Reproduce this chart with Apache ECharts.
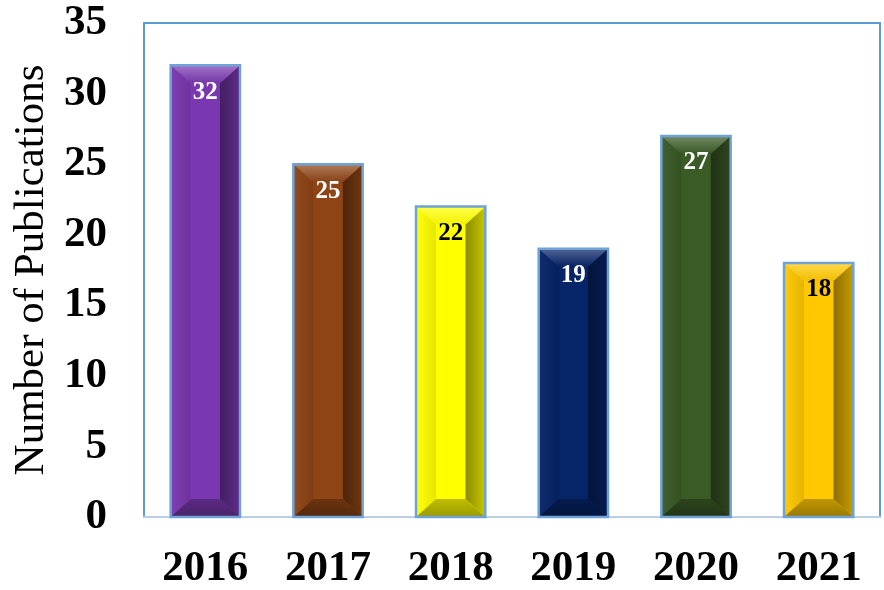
<!DOCTYPE html>
<html>
<head>
<meta charset="utf-8">
<script src="https://cdn.jsdelivr.net/npm/echarts@6/dist/echarts.min.js"></script>
<style>
  html, body { margin: 0; padding: 0; background: #fff; }
  #chart { width: 884px; height: 590px; }
</style>
</head>
<body>
<div id="chart"></div>
<script>
// data
const years = ['2016', '2017', '2018', '2019', '2020', '2021']
const publications = [32, 25, 22, 19, 27, 18]
const yTicks = [0, 5, 10, 15, 20, 25, 30, 35]

// bar colours (face colour, label colour)
const faceColors = ['#7a38b0', '#8e4415', '#ffff00', '#062468', '#3a5a26', '#ffc800']
const labelColors = ['#fff', '#fff', '#000', '#fff', '#fff', '#000']

const serif = '"Liberation Serif", "Times New Roman", serif'

// lighten (amt > 0) or darken (amt < 0) a hex colour
const shade = (hex, amt) => {
  const n = parseInt(hex.slice(1), 16)
  let r = (n >> 16) & 255, g = (n >> 8) & 255, b = n & 255
  const f = c => amt >= 0 ? Math.round(c + (255 - c) * amt) : Math.round(c * (1 + amt))
  return `rgb(${f(r)},${f(g)},${f(b)})`
}

const chart = echarts.init(document.getElementById('chart'))

// bevelled bar, drawn from the axis coords
const renderBar = (params, api) => {
  const idx = params.dataIndex
  const top = api.coord([api.value(0), api.value(1)])
  const base = api.coord([api.value(0), 0])
  const bw = api.size([1, 0])[0] * 0.565
  const x0 = top[0] - bw / 2, x1 = top[0] + bw / 2
  const y0 = top[1], y1 = base[1]
  const bx = 20, by = 18
  const ix0 = x0 + bx, ix1 = x1 - bx, iy0 = y0 + by, iy1 = y1 - by
  const c = faceColors[idx]
  const poly = (pts, fill) => ({ type: 'polygon', shape: { points: pts }, style: { fill: fill } })
  return {
    type: 'group',
    children: [
      { type: 'rect', shape: { x: x0, y: y0, width: bw, height: y1 - y0 }, style: { fill: c } },
      poly([[x0, y0], [ix0, iy0], [ix0, iy1], [x0, y1]], {
        type: 'linear', x: 0, y: 0, x2: 1, y2: 0,
        colorStops: [{ offset: 0, color: shade(c, 0.04) }, { offset: 1, color: shade(c, -0.1) }]
      }),
      poly([[x1, y0], [ix1, iy0], [ix1, iy1], [x1, y1]], {
        type: 'linear', x: 0, y: 0, x2: 1, y2: 0,
        colorStops: [{ offset: 0, color: shade(c, -0.45) }, { offset: 1, color: shade(c, -0.22) }]
      }),
      poly([[x0, y0], [x1, y0], [ix1, iy0], [ix0, iy0]], {
        type: 'linear', x: 0, y: 0, x2: 0, y2: 1,
        colorStops: [{ offset: 0, color: shade(c, 0.3) }, { offset: 1, color: shade(c, -0.05) }]
      }),
      poly([[x0, y1], [x1, y1], [ix1, iy1], [ix0, iy1]], {
        type: 'linear', x: 0, y: 0, x2: 0, y2: 1,
        colorStops: [{ offset: 0, color: shade(c, -0.25) }, { offset: 1, color: shade(c, -0.4) }]
      }),
      { type: 'rect', shape: { x: ix0, y: iy0, width: ix1 - ix0, height: iy1 - iy0 }, style: { fill: c } },
      {
        type: 'rect', shape: { x: x0, y: y0, width: bw, height: y1 - y0 },
        style: { fill: 'none', stroke: '#6fa3d8', lineWidth: 2.5 }
      },
      {
        type: 'text', x: top[0], y: y0 + 27,
        style: {
          text: String(api.value(1)), fill: labelColors[idx],
          font: 'bold 25px ' + serif,
          align: 'center', verticalAlign: 'middle'
        }
      }
    ]
  }
}

chart.setOption({
  animation: false,
  backgroundColor: '#fff',
  grid: {
    left: 144, right: 4, top: 23, bottom: 73,
    outerBoundsMode: 'none', containLabel: false,
    show: true, borderColor: '#5f9ad6', borderWidth: 2, backgroundColor: '#fff'
  },
  xAxis: {
    type: 'category',
    data: years,
    axisLine: { lineStyle: { color: '#bccee4', width: 2 } },
    axisTick: { show: false },
    axisLabel: {
      color: '#000', fontSize: 43, fontWeight: 'bold',
      fontFamily: serif, margin: 30
    }
  },
  yAxis: {
    type: 'value',
    min: yTicks[0], max: yTicks[yTicks.length - 1], interval: 5,
    splitLine: { show: false },
    axisLine: { show: false },
    axisLabel: {
      color: '#000', fontSize: 43, fontWeight: 'bold',
      fontFamily: serif, margin: 37
    },
    name: 'Number of Publications',
    nameLocation: 'middle',
    nameGap: 78,
    nameTextStyle: {
      color: '#000', fontSize: 43,
      fontFamily: serif
    }
  },
  series: [{
    type: 'custom',
    renderItem: renderBar,
    data: years.map((y, i) => [i, publications[i]]),
    encode: { x: 0, y: 1 }
  }]
})
</script>
</body>
</html>
